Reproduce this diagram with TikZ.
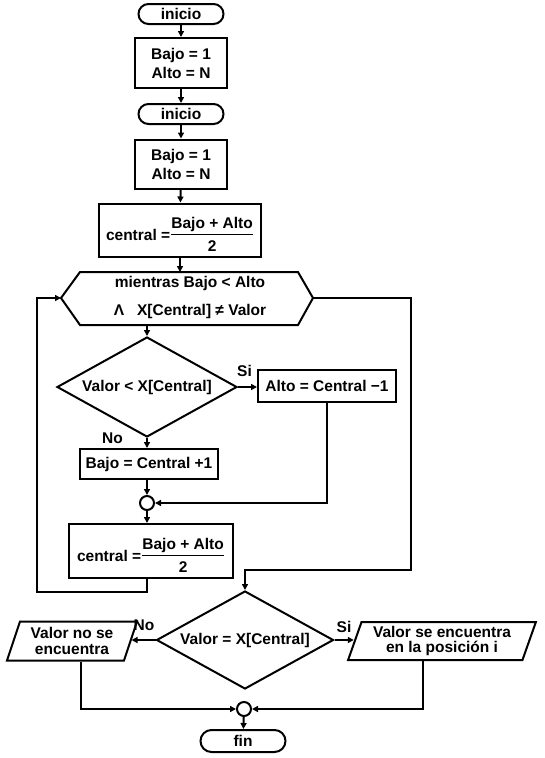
\documentclass[tikz,border=0pt]{standalone}
\usepackage{fontspec}
\usepackage{amsmath}
\setmainfont{Liberation Sans}
\usetikzlibrary{shapes.geometric,arrows.meta}
\newcommand{\centralfrac}{central =\raisebox{2.5pt}{$\genfrac{}{}{1.8pt}{1}{\hbox{Bajo + Alto}}{\hbox{\rule{0pt}{14pt}2}}$}}
\begin{document}
\begin{tikzpicture}[x=1pt,y=-1pt,
  every node/.style={font=\fontsize{15.5}{19}\selectfont\bfseries},
  ln/.style={line width=2pt},
  arr/.style={ln,-{Triangle[length=6pt,width=6pt]}},
  term/.style={draw,ln,rounded corners=10pt,minimum width=85pt,minimum height=20pt,inner sep=0pt},
  proc/.style={draw,ln,rectangle,inner sep=0pt,align=center},
  fracbox/.style={proc,text height=30pt,text depth=9pt},
  dec/.style={draw,ln,diamond,inner sep=0pt,aspect=1.8},
  io/.style={draw,ln,trapezium,trapezium left angle=69,trapezium right angle=111,
    trapezium stretches=true,inner sep=0pt,align=center,font=\fontsize{15.5}{15.5}\selectfont\bfseries},
  junc/.style={draw,ln,circle,minimum size=14pt,inner sep=0pt},
  lbl/.style={inner sep=0pt}]
\useasboundingbox (0,0) rectangle (544,758);
% nodes
\node[term] (ini1) at (181,14) {inicio};
\node[proc,minimum width=92pt,minimum height=50pt] (b1) at (181,63) {Bajo = 1\\Alto = N};
\node[term] (ini2) at (181,114) {inicio};
\node[proc,minimum width=92pt,minimum height=49pt] (b2) at (181,164) {Bajo = 1\\Alto = N};
\node[fracbox,minimum width=162pt,minimum height=53pt] (c1) at (180,230) {\centralfrac};
% hexagon (loop)
\coordinate (hexL) at (61,298);
\coordinate (hexR) at (313,298);
\coordinate (hexT) at (180,272);
\coordinate (hexB) at (147,325);
\draw[ln] (hexL) -- (80,272) -- (298,272) -- (hexR) -- (298,325) -- (80,325) -- cycle;
\node[align=center,inner sep=0pt] (hex) at (190,297)
  {mientras Bajo < Alto\\[9pt]Λ\hspace{13pt}X[Central] ≠ Valor};
\node[dec,minimum width=180pt,minimum height=100pt] (d1) at (147,387) {Valor < X[Central]};
\node[proc,minimum width=138pt,minimum height=32pt] (alto) at (327,386) {Alto = Central −1};
\node[proc,minimum width=138pt,minimum height=30pt] (bajo) at (149,464) {Bajo = Central +1};
\node[junc] (j1) at (147,503) {};
\node[fracbox,minimum width=164pt,minimum height=54pt] (c2) at (151,551) {\centralfrac};
\coordinate (lp) at (37,592);
\coordinate (rp) at (411,570);
\node[dec,minimum width=177pt,minimum height=98pt] (d2) at (245,640) {Valor = X[Central]};
\node[io,minimum width=130pt,minimum height=39pt] (pl) at (72,641) {Valor no se\\encuentra};
\node[io,minimum width=188pt,minimum height=38pt] (pr) at (442,641) {Valor se encuentra\\en la posición i};
\node[junc] (j2) at (244,709) {};
\node[term,minimum height=22pt,rounded corners=11pt] (fin) at (243,741) {fin};
% connectors
\draw[arr] (ini1) -- (b1);
\draw[arr] (b1) -- (ini2);
\draw[arr] (ini2) -- (b2);
\draw[arr] (b2) -- (c1);
\draw[arr] (c1) -- (hexT);
\draw[arr] (hexB) -- (d1.north);
\draw[arr] (d1.east) -- (d1.east -| alto.west);
\draw[arr] (d1.south) -- (d1.south |- bajo.north);
\draw[arr] (d1.south |- bajo.south) -- (j1.north);
\draw[arr] (alto.south) |- (j1.east);
\draw[arr] (j1.south) -- (j1.south |- c2.north);
\draw[arr] (j1 |- c2.south) |- (lp) |- (hexL);
\draw[arr] (hexR) -| (rp) -| (d2.north);
\draw[arr] (d2.west) -- (d2.west -| pl.east);
\draw[arr] (d2.east) -- (d2.east -| pr.west);
\draw[arr] ([xshift=9pt]pl.south) |- (j2.west);
\draw[arr] ([xshift=-19pt]pr.south) |- (j2.east);
\draw[arr] (j2) -- (fin);
% labels
\node[lbl,anchor=south west] at ([xshift=-1pt,yshift=10pt]d1.east) {Si};
\node[lbl,anchor=east] at ([xshift=-24pt]d1.south) {No};
\node[lbl,anchor=south east] at ([xshift=-1pt,yshift=9pt]d2.west) {No};
\node[lbl,anchor=south west] at ([xshift=2pt,yshift=7pt]d2.east) {Si};
\end{tikzpicture}
\end{document}
